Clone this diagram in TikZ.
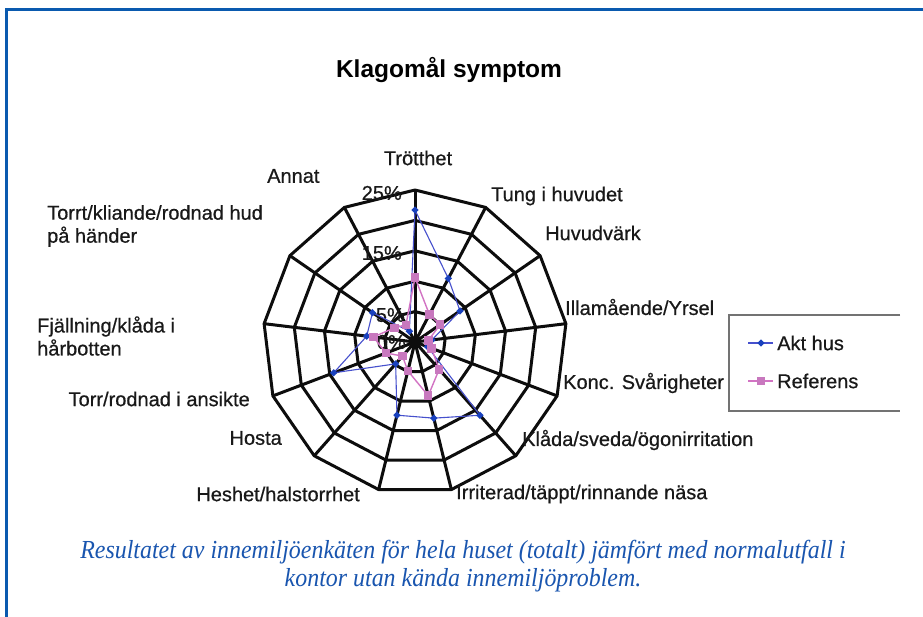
\documentclass[tikz,border=0pt]{standalone}
\usepackage{fontspec}
\setmainfont{Liberation Sans}
\newfontfamily\lblfont{Liberation Sans}[FakeBold=0.6]
\newfontfamily\capfont{Liberation Serif}
\usetikzlibrary{shapes.geometric}
\definecolor{frameblue}{RGB}{10,90,175}
\definecolor{capblue}{RGB}{25,85,175}
\definecolor{aktblue}{RGB}{70,80,205}
\definecolor{aktmark}{RGB}{25,65,190}
\definecolor{refpink}{RGB}{210,115,195}
\definecolor{refmark}{RGB}{200,120,190}
\definecolor{legframe}{RGB}{115,115,115}
\begin{document}
\begin{tikzpicture}[x=1pt,y=-1pt,
  lbl/.style={font=\lblfont\fontsize{20}{23}\selectfont, inner sep=0pt, align=left, text=black!90},
  axlbl/.style={font=\lblfont\fontsize{20}{23}\selectfont, inner sep=0pt, anchor=east, text=black!90},
  gridline/.style={line width=3pt, black!95, line join=round},
  aktline/.style={aktblue, line width=1.1pt},
  refline/.style={refpink, line width=1.4pt},
  aktmk/.style={diamond, fill=aktmark, inner sep=0pt, minimum size=7.5pt},
  refmk/.style={rectangle, fill=refmark, inner sep=0pt, minimum size=8.5pt}]
\useasboundingbox (0,0) rectangle (923,617);
\fill[white] (0,0) rectangle (923,617);
% outer blue frame
\draw[frameblue, line width=3pt] (6,617) -- (6,10) -- (924,10);
% title
\node[font=\bfseries\fontsize{24.5}{28}\selectfont, inner sep=0pt] (title) at (449,70) {Klagomål symptom};
% grid
\foreach \r in {30.4,60.8,91.2,121.6,152} {
  \draw[gridline] plot[samples at={0,...,12}] ({415+\r*cos(90-\x*360/13)},{342-\r*sin(90-\x*360/13)}) -- cycle;
}
\foreach \k in {0,...,12} {
  \draw[gridline] (415,342) -- ({415+152*cos(90-\k*360/13)},{342-152*sin(90-\k*360/13)});
}
% axis labels
\node[axlbl] (p25) at (402,193) {25\%};
\node[axlbl] (p15) at (402,253) {15\%};
\node[axlbl] (p5) at (405,315) {5\%};
\node[axlbl] (p0) at (406,342) {0\%};
% data points
\foreach \v [count=\i from 0] in {21.7,11.8,9,2.8,2.2,16.1,12.9,12.4,4.8,14.3,8,8.5,2} {
  \coordinate (a\i) at ({415+6.08*\v*cos(90-\i*360/13)},{342-6.08*\v*sin(90-\i*360/13)});
}
\foreach \v [count=\i from 0] in {10.6,5.1,5,2.2,2.9,6,9.1,4.9,3.1,5.1,6.9,4.1,3.2} {
  \coordinate (r\i) at ({415+6.08*\v*cos(90-\i*360/13)},{342-6.08*\v*sin(90-\i*360/13)});
}
\draw[aktline] (a0) -- (a1) -- (a2) -- (a3) -- (a4) -- (a5) -- (a6) -- (a7) -- (a8) -- (a9) -- (a10) -- (a11) -- (a12) -- cycle;
\foreach \i in {0,...,12} { \node[aktmk] (am\i) at (a\i) {}; }
\draw[refline] (r0) -- (r1) -- (r2) -- (r3) -- (r4) -- (r5) -- (r6) -- (r7) -- (r8) -- (r9) -- (r10) -- (r11) -- (r12) -- cycle;
\foreach \i in {0,...,12} { \node[refmk] (rm\i) at (r\i) {}; }
% category labels
\node[lbl, anchor=center] (c0) at (418,158) {Trötthet};
\node[lbl, anchor=west] (c1) at (491,196) {Tung i huvudet};
\node[lbl, anchor=west] (c2) at (545,233) {Huvudvärk};
\node[lbl, anchor=west] (c3) at (565,307) {Illamående/Yrsel};
\node[lbl, anchor=west] (c4) at (563,383) {Konc. Svårigheter};
\node[lbl, anchor=west] (c5) at (522,440) {Klåda/sveda/ögonirritation};
\node[lbl, anchor=west] (c6) at (456,494) {Irriterad/täppt/rinnande näsa};
\node[lbl, anchor=east] (c7) at (360,494) {Heshet/halstorrhet};
\node[lbl, anchor=east] (c8) at (282,438) {Hosta};
\node[lbl, anchor=east] (c9) at (250,399) {Torr/rodnad i ansikte};
\node[lbl, anchor=west] (c10) at (37,336) {Fjällning/klåda i\\hårbotten};
\node[lbl, anchor=west] (c11) at (47,226) {Torrt/kliande/rodnad hud\\på händer};
\node[lbl, anchor=west] (c12) at (267,176) {Annat};
% legend
\draw[legframe, line width=1.6pt] (900,315) -- (729,315) -- (729,411) -- (900,411);
\coordinate (la1) at (748,343); \coordinate (la2) at (773,343);
\draw[aktline] (la1) -- (la2);
\node[aktmk] (lam) at (761,343) {};
\node[lbl, anchor=west] (leg1) at (777,343) {Akt hus};
\coordinate (lr1) at (748,381); \coordinate (lr2) at (773,381);
\draw[refline] (lr1) -- (lr2);
\node[refmk] (lrm) at (761,381) {};
\node[lbl, anchor=west] (leg2) at (777,381) {Referens};
% caption
\node[font=\capfont\itshape\fontsize{26}{28}\selectfont, text=capblue, align=center, inner sep=0pt, xscale=0.92] (cap) at (463,566) {Resultatet av innemiljöenkäten för hela huset (totalt) jämfört med normalutfall i\\kontor utan kända innemiljöproblem.};
\end{tikzpicture}
\end{document}
